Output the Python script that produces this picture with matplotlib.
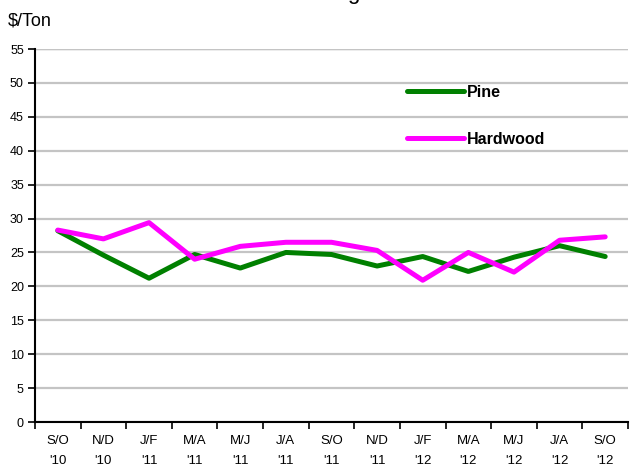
import matplotlib.pyplot as plt
import numpy as np

plt.rcParams['font.family'] = ['Liberation Sans', 'DejaVu Sans']

# periods (two-month) and prices, $/ton
periods = ["S/O\n'10", "N/D\n'10", "J/F\n'11", "M/A\n'11", "M/J\n'11", "J/A\n'11",
           "S/O\n'11", "N/D\n'11", "J/F\n'12", "M/A\n'12", "M/J\n'12", "J/A\n'12", "S/O\n'12"]
pine = [28.2, 24.6, 21.2, 24.7, 22.7, 25.0, 24.7, 23.0, 24.4, 22.2, 24.3, 26.0, 24.4]
hardwood = [28.3, 27.0, 29.4, 24.0, 25.9, 26.5, 26.5, 25.3, 20.9, 25.0, 22.1, 26.8, 27.3]

fig = plt.figure(figsize=(6.3, 4.69), dpi=100)
ax = fig.add_axes([35/630, 1 - 422/469, 593/630, 373/469])

x = np.arange(len(periods))
ax.plot(x, pine, color='#008000', linewidth=3.6, label='Pine', solid_capstyle='round')
ax.plot(x, hardwood, color='#ff00ff', linewidth=3.6, label='Hardwood', solid_capstyle='round')

ax.set_xlim(-0.5, len(periods) - 0.5)
ax.set_ylim(0, 55)
ax.set_yticks(np.arange(0, 56, 5))
ax.tick_params(axis='y', labelsize=9, length=5, width=1.2, direction='out', pad=3)

# ticks at category edges, labels at centers
ax.set_xticks(np.arange(-0.5, len(periods), 1))
ax.set_xticklabels([])
ax.tick_params(axis='x', which='major', length=5, width=1.2, direction='out')
ax.set_xticks(x, minor=True)
ax.set_xticklabels(periods, minor=True, fontsize=9.5, linespacing=1.9)
ax.tick_params(axis='x', which='minor', length=0, pad=9)

ax.grid(axis='y', color='#c4c4c4', linewidth=1.6)
ax.set_axisbelow(True)
ax.spines['top'].set_visible(False)
ax.spines['right'].set_visible(False)
ax.spines['left'].set_linewidth(1.5)
ax.spines['bottom'].set_linewidth(1.5)
ax.axhline(55, color='#909090', linewidth=1.6, zorder=0)

ax.legend(loc='center left', bbox_to_anchor=(399/630, 1 - 116/469),
          bbox_transform=fig.transFigure, frameon=False, borderpad=0,
          handlelength=3.6, handletextpad=0.15, labelspacing=2.0,
          prop={'weight': 'bold', 'size': 11.5})

fig.text(8/630, 1 - 21/469, '$/Ton', fontsize=13, va='center', ha='left')
# title cut off at the top of the picture
fig.text(353/630, 1 + 1/469, 'g', fontsize=16, ha='center', va='baseline')

fig.savefig('out.png', dpi=100)
